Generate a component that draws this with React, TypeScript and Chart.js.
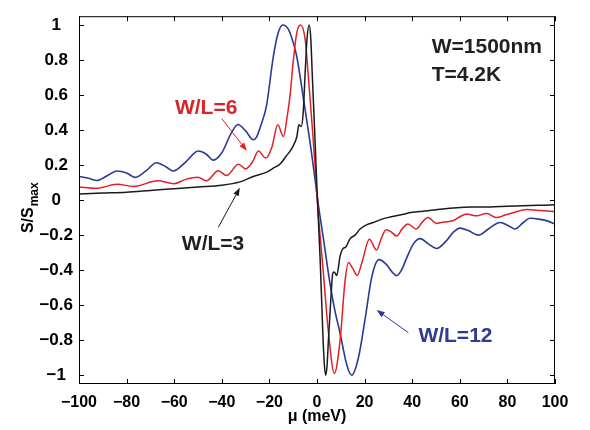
import React, { useEffect, useRef } from "react";
import { Chart, registerables } from "chart.js";

Chart.register(...registerables);

// ---- data ----
const blueX = [-100, -96, -92.5, -88, -84.2, -80, -76.5, -72, -67.4, -63.5, -60.4, -55, -49.9, -46.5, -43.6, -40, -36.5, -33.2, -30, -26.8, -25.4, -23.5, -21.2, -18.4, -16.3, -14.4, -12, -10, -8.5, -5.7, -2.2, 0.5, 2.7, 5.5, 7.5, 9.7, 12.5, 14.6, 17.4, 20.2, 23, 26, 29.3, 31.5, 33.5, 35.5, 37.7, 40.5, 43.3, 46.8, 50.3, 54.5, 57.3, 60.1, 63.6, 67.8, 72, 76.9, 80.4, 83.2, 86.7, 89.5, 93.7, 97, 100];
const blueY = [0.135, 0.125, 0.112, 0.14, 0.166, 0.155, 0.13, 0.165, 0.213, 0.19, 0.166, 0.22, 0.28, 0.262, 0.228, 0.27, 0.37, 0.432, 0.395, 0.345, 0.36, 0.43, 0.54, 0.815, 0.955, 1.0, 0.975, 0.9, 0.82, 0.58, 0.26, -0.02, -0.22, -0.48, -0.63, -0.76, -0.94, -1.0, -0.9, -0.68, -0.44, -0.34, -0.37, -0.41, -0.432, -0.4, -0.33, -0.25, -0.22, -0.25, -0.276, -0.23, -0.183, -0.16, -0.174, -0.2, -0.165, -0.128, -0.146, -0.165, -0.128, -0.104, -0.11, -0.12, -0.137];

const redX = [-100, -93, -84, -77, -67, -60, -55.5, -50, -46.4, -41.5, -38, -33, -30, -27, -24.6, -21.5, -19, -16.5, -14.1, -12.5, -11.3, -10, -8.5, -6.9, -5, -3.6, -2.2, -0.8, 0.1, 2.7, 4.7, 7.3, 9.7, 11.8, 13.2, 15, 16.9, 19, 22, 25, 27, 29, 31, 33.5, 36, 38.2, 41.7, 44, 46.6, 50.3, 53.5, 57.1, 60, 62.9, 67, 71.3, 75.5, 79, 82.4, 88.1, 94, 100];
const redY = [0.075, 0.067, 0.09, 0.078, 0.11, 0.094, 0.117, 0.13, 0.11, 0.168, 0.14, 0.205, 0.178, 0.22, 0.28, 0.24, 0.3, 0.43, 0.363, 0.48, 0.6, 0.79, 0.955, 1.0, 0.92, 0.7, 0.455, 0.196, 0.0, -0.42, -0.74, -0.99, -0.8, -0.46, -0.356, -0.39, -0.43, -0.35, -0.224, -0.285, -0.22, -0.17, -0.18, -0.205, -0.16, -0.137, -0.165, -0.13, -0.1, -0.133, -0.125, -0.118, -0.095, -0.08, -0.09, -0.076, -0.1, -0.085, -0.072, -0.054, -0.06, -0.066];

const blackX = [-100, -90, -80, -70, -60, -50, -40, -32.4, -26.8, -21.1, -18, -15.5, -13, -11.3, -10, -8.5, -7.6, -6.6, -5.8, -5, -4.2, -3.3, -2.6, -2, -1, 0, 1.3, 2.4, 3, 3.6, 4.2, 4.8, 5.8, 6.6, 7.2, 8.3, 9.7, 11, 12, 13.9, 16, 18.1, 21, 23.7, 27, 30.7, 35, 40, 44.5, 50, 58.7, 65, 72.7, 80, 86.6, 93, 100];
const blackY = [0.035, 0.04, 0.045, 0.055, 0.065, 0.075, 0.085, 0.104, 0.135, 0.16, 0.185, 0.206, 0.25, 0.28, 0.31, 0.36, 0.43, 0.42, 0.5, 0.72, 0.92, 1.0, 0.92, 0.72, 0.4, 0.06, -0.33, -0.74, -0.92, -1.0, -0.95, -0.8, -0.57, -0.42, -0.41, -0.43, -0.32, -0.276, -0.27, -0.22, -0.2, -0.165, -0.14, -0.128, -0.11, -0.097, -0.085, -0.07, -0.063, -0.055, -0.044, -0.04, -0.039, -0.035, -0.032, -0.03, -0.026];

const xTicks = [-100, -80, -60, -40, -20, 0, 20, 40, 60, 80, 100];
const yTicks = [-1, -0.8, -0.6, -0.4, -0.2, 0, 0.2, 0.4, 0.6, 0.8, 1];

const seriesLabels = ["W/L=3", "W/L=6", "W/L=12"];
const infoLines = ["W=1500nm", "T=4.2K"];
const xTitle = "\u03bc (meV)";

const COLORS = { black: "#1c1a1b", red: "#e31e26", blue: "#2b3994" };
const TEXT_COLORS = { black: "#231f20", red: "#d8242b", blue: "#2e3a93" };
const FONT = '"Liberation Sans", Arial, Helvetica, sans-serif';

const pts = (xs: number[], ys: number[]) => xs.map((x, i) => ({ x, y: ys[i] }));
const fmt = (v: number) => {
  const r = Math.round(v * 10) / 10;
  const s = Math.abs(r).toString();
  return r < 0 ? "\u2212" + s : s;
};

// annotation anchors in data units
const labelAnchors = [
  { text: seriesLabels[1], x: -59.7, y: 0.49, color: TEXT_COLORS.red },
  { text: seriesLabels[0], x: -56.8, y: -0.285, color: TEXT_COLORS.black },
  { text: seriesLabels[2], x: 42.6, y: -0.81, color: TEXT_COLORS.blue },
  { text: infoLines[0], x: 48.2, y: 0.84, color: TEXT_COLORS.black },
  { text: infoLines[1], x: 48.2, y: 0.68, color: TEXT_COLORS.black },
];
const arrows = [
  { x1: -40, y1: 0.465, x2: -29.5, y2: 0.282, color: COLORS.red },
  { x1: -41.5, y1: -0.156, x2: -32.4, y2: 0.07, color: COLORS.black },
  { x1: 38.4, y1: -0.757, x2: 25.1, y2: -0.628, color: COLORS.blue },
];

const decorPlugin = {
  id: "decor",
  afterDraw(chart: any) {
    const { ctx, chartArea } = chart;
    const { left, right, top, bottom } = chartArea;
    const xs = chart.scales.x;
    const ys = chart.scales.y;
    ctx.save();
    // frame
    ctx.strokeStyle = "#000";
    ctx.lineWidth = 1;
    ctx.strokeRect(left + 0.5, top + 0.5, right - left - 1, bottom - top - 1);
    // inner ticks
    ctx.beginPath();
    const tl = 5;
    xTicks.forEach((v) => {
      const p = Math.round(xs.getPixelForValue(v)) + 0.5;
      ctx.moveTo(p, bottom);
      ctx.lineTo(p, bottom - tl);
      ctx.moveTo(p, top);
      ctx.lineTo(p, top + tl);
    });
    yTicks.forEach((v) => {
      const p = Math.round(ys.getPixelForValue(v)) + 0.5;
      ctx.moveTo(left, p);
      ctx.lineTo(left + tl, p);
      ctx.moveTo(right, p);
      ctx.lineTo(right - tl, p);
    });
    ctx.stroke();

    // annotation texts
    ctx.font = `bold 21px ${FONT}`;
    ctx.textBaseline = "alphabetic";
    ctx.textAlign = "left";
    labelAnchors.forEach((a) => {
      ctx.fillStyle = a.color;
      ctx.fillText(a.text, xs.getPixelForValue(a.x), ys.getPixelForValue(a.y));
    });

    // arrows
    arrows.forEach((a) => {
      const x1 = xs.getPixelForValue(a.x1);
      const y1 = ys.getPixelForValue(a.y1);
      const x2 = xs.getPixelForValue(a.x2);
      const y2 = ys.getPixelForValue(a.y2);
      const ang = Math.atan2(y2 - y1, x2 - x1);
      const hl = 8;
      const hw = 3;
      const bx = x2 - hl * Math.cos(ang);
      const by = y2 - hl * Math.sin(ang);
      ctx.strokeStyle = a.color;
      ctx.fillStyle = a.color;
      ctx.lineWidth = 1;
      ctx.beginPath();
      ctx.moveTo(x1, y1);
      ctx.lineTo(bx, by);
      ctx.stroke();
      ctx.beginPath();
      ctx.moveTo(x2, y2);
      ctx.lineTo(bx + hw * Math.sin(ang), by - hw * Math.cos(ang));
      ctx.lineTo(bx - hw * Math.sin(ang), by + hw * Math.cos(ang));
      ctx.closePath();
      ctx.fill();
    });

    // x title
    ctx.fillStyle = "#000";
    ctx.font = `bold 16px ${FONT}`;
    ctx.textAlign = "center";
    ctx.fillText(xTitle, (left + right) / 2, bottom + 37);

    // y title with subscript
    ctx.translate(left - 46, (top + bottom) / 2 + 33);
    ctx.rotate(-Math.PI / 2);
    ctx.textAlign = "left";
    ctx.font = `bold 16px ${FONT}`;
    const main = "S/S";
    ctx.fillText(main, 0, 0);
    const w = ctx.measureText(main).width;
    ctx.font = `bold 12px ${FONT}`;
    ctx.fillText("max", w + 1, 5);
    ctx.restore();
  },
};

export default function App() {
  const ref = useRef<HTMLCanvasElement | null>(null);
  useEffect(() => {
    if (!ref.current) return;
    const tickFont = { family: FONT, size: 16, weight: "bold" as const };
    const chart = new Chart(ref.current, {
      type: "line",
      data: {
        datasets: [
          { label: seriesLabels[0], data: pts(blackX, blackY), borderColor: COLORS.black, borderWidth: 1.5, pointRadius: 0, cubicInterpolationMode: "monotone", fill: false },
          { label: seriesLabels[1], data: pts(redX, redY), borderColor: COLORS.red, borderWidth: 1.5, pointRadius: 0, cubicInterpolationMode: "monotone", fill: false },
          { label: seriesLabels[2], data: pts(blueX, blueY), borderColor: COLORS.blue, borderWidth: 1.6, pointRadius: 0, cubicInterpolationMode: "monotone", fill: false },
        ],
      },
      options: {
        responsive: false,
        maintainAspectRatio: false,
        animation: false,
        events: [],
        layout: { padding: { top: 9, right: 35, left: 0, bottom: 0 } },
        plugins: { legend: { display: false }, tooltip: { enabled: false }, title: { display: false } },
        scales: {
          x: {
            type: "linear",
            min: -100,
            max: 100,
            afterBuildTicks: (s: any) => {
              s.ticks = xTicks.map((v) => ({ value: v }));
            },
            afterFit: (s: any) => {
              s.height = 46;
            },
            grid: { display: false, drawTicks: false },
            border: { display: false },
            ticks: { font: tickFont, color: "#000", padding: 9, maxRotation: 0, autoSkip: false, callback: (v: any) => fmt(Number(v)) },
          },
          y: {
            type: "linear",
            min: -1.05,
            max: 1.05,
            afterBuildTicks: (s: any) => {
              s.ticks = yTicks.map((v) => ({ value: v }));
            },
            afterFit: (s: any) => {
              s.width = 79;
            },
            grid: { display: false, drawTicks: false },
            border: { display: false },
            ticks: { font: { ...tickFont, size: 17 }, color: "#000", padding: 6, crossAlign: "center", autoSkip: false, callback: (v: any) => fmt(Number(v)) },
          },
        },
      },
      plugins: [decorPlugin],
    });
    return () => chart.destroy();
  }, []);
  return (
    <div style={{ position: "absolute", left: 0, top: 0, width: 590, height: 430, background: "#fff" }}>
      <canvas ref={ref} width={590} height={430} style={{ display: "block", width: 590, height: 430 }} />
    </div>
  );
}
